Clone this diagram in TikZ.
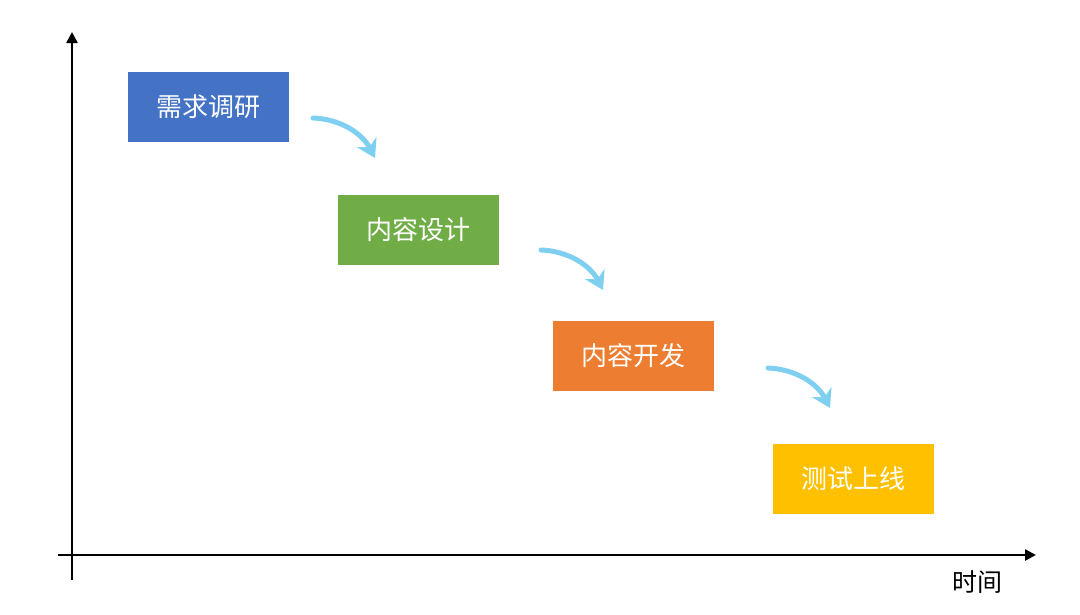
\documentclass[tikz,border=0pt]{standalone}
\usepackage{fontspec}
\newfontfamily\cjk{Noto Sans CJK SC}
\usetikzlibrary{arrows.meta}

\definecolor{azulbox}{HTML}{4472C4}
\definecolor{verdebox}{HTML}{70AD47}
\definecolor{laranjabox}{HTML}{ED7D31}
\definecolor{amarelobox}{HTML}{FFC000}
\definecolor{setaazul}{HTML}{7FD0F0}

\tikzset{
	etapa/.style={minimum width=161pt, minimum height=70pt, inner sep=0pt, text=white, font=\cjk\fontsize{26}{30}\selectfont},
	seta/.style={setaazul, line width=5pt, line cap=round, -{Stealth[length=18pt,width=22pt,inset=6pt]}}
}

\begin{document}
\begin{tikzpicture}[x=1pt,y=-1pt]
		\useasboundingbox (0,0) rectangle (1080,614);
		
		% Eixos
		\coordinate (origem) at (72,555);
		\coordinate (ytopo) at (72,32);
		\coordinate (ybaixo) at (72,580);
		\coordinate (xinicio) at (58,555);
		\coordinate (xfim) at (1036,555);
		\draw[line width=2.5pt, -{Triangle[length=11pt,width=11pt]}] (ybaixo) -- (ytopo);
		\draw[line width=2.5pt, -{Triangle[length=11pt,width=11pt]}] (xinicio) -- (xfim);
		\node[font=\cjk\fontsize{25}{28}\selectfont] (tempo) at (977,582) {时间};
		
		% Etapas
		\node[etapa, fill=azulbox] (pesquisa) at (208.5,107) {需求调研};
		\node[etapa, fill=verdebox] (projeto) at (418,230) {内容设计};
		\node[etapa, fill=laranjabox] (desenvolvimento) at (633.5,356) {内容开发};
		\node[etapa, fill=amarelobox] (lancamento) at (853,479) {测试上线};
		
		% Setas curvas
		\coordinate (s1a) at (313,118);
		\coordinate (s1b) at (375,158);
		\coordinate (s2a) at (541,250);
		\coordinate (s2b) at (603,290);
		\coordinate (s3a) at (768,368);
		\coordinate (s3b) at (830,408);
		\draw[seta] (s1a) .. controls (340,119) and (362,133) .. (s1b);
		\draw[seta] (s2a) .. controls (568,251) and (590,265) .. (s2b);
		\draw[seta] (s3a) .. controls (795,369) and (817,383) .. (s3b);
	\end{tikzpicture}
\end{document}
